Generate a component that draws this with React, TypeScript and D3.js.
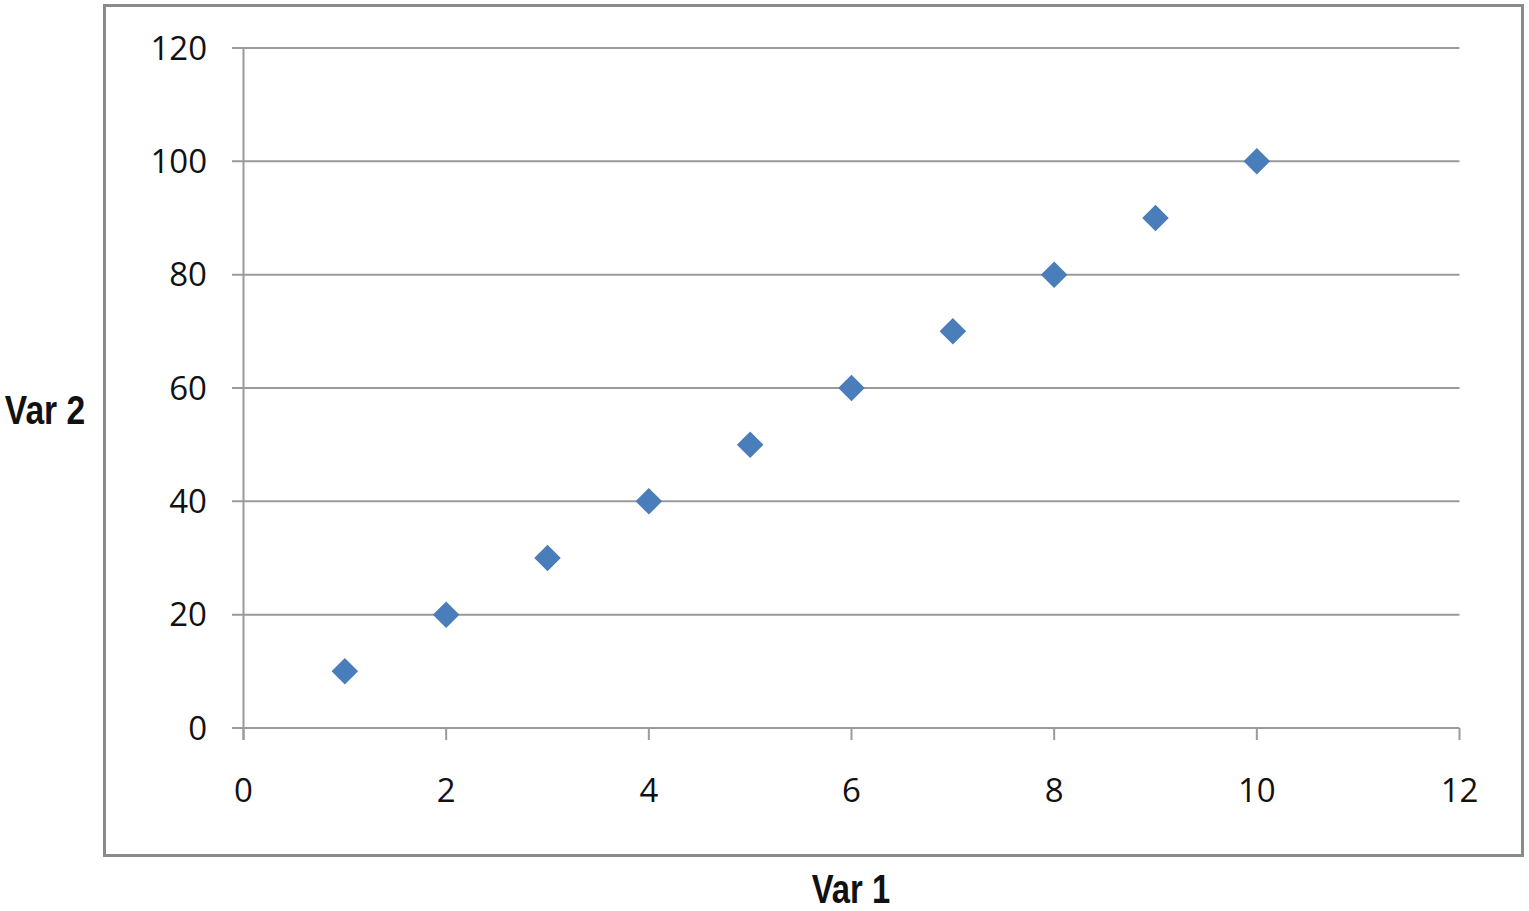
import React from "react";
import * as d3 from "d3";

const var1: number[] = [1, 2, 3, 4, 5, 6, 7, 8, 9, 10];
const var2: number[] = [10, 20, 30, 40, 50, 60, 70, 80, 90, 100];
const xTicks: number[] = [0, 2, 4, 6, 8, 10, 12];
const yTicks: number[] = [0, 20, 40, 60, 80, 100, 120];

export default function App() {
  const W = 1529, H = 911;
  const x = d3.scaleLinear().domain([0, 12]).range([243.5, 1459.5]);
  const y = d3.scaleLinear().domain([0, 120]).range([728, 48]);
  const sym = d3.symbol().type(d3.symbolDiamond2).size(2 * 15 * 15);
  const diamond = sym() as string;
  const tickFont = "'Open Sans', 'Noto Sans', sans-serif";
  const titleFont = "'Liberation Sans', Arial, sans-serif";
  const gridColor = "#9a9a9a";
  return (
    <svg width={W} height={H} style={{ position: "absolute", left: 0, top: 0, background: "#fff" }}>
      <rect x={104.5} y={5.5} width={1418} height={850} fill="none" stroke="#8a8a8a" strokeWidth={3} />
      {yTicks.map((t) => (
        <g key={"y" + t}>
          <line x1={232} x2={x(12)} y1={y(t)} y2={y(t)} stroke={gridColor} strokeWidth={2} />
          <text x={207} y={y(t)} dy="0.35em" textAnchor="end" fontFamily={tickFont} fontSize={33} fill="#111">
            {t}
          </text>
        </g>
      ))}
      <line x1={x(0)} x2={x(0)} y1={y(120)} y2={y(0) + 12} stroke={gridColor} strokeWidth={2} />
      {xTicks.map((t) => (
        <g key={"x" + t}>
          <line x1={x(t)} x2={x(t)} y1={y(0)} y2={y(0) + 12} stroke={gridColor} strokeWidth={2} />
          <text x={x(t)} y={802} textAnchor="middle" fontFamily={tickFont} fontSize={33} fill="#111">
            {t}
          </text>
        </g>
      ))}
      {var1.map((v, i) => (
        <path key={"p" + i} d={diamond} transform={`translate(${x(v)},${y(var2[i])})`} fill="#4a7ebb" />
      ))}
      <g transform="translate(45,424) scale(0.82,1)">
        <text x={0} y={0} textAnchor="middle" fontFamily={titleFont} fontWeight="bold" fontSize={41} fill="#111">
          Var 2
        </text>
      </g>
      <g transform="translate(851,903) scale(0.82,1)">
        <text x={0} y={0} textAnchor="middle" fontFamily={titleFont} fontWeight="bold" fontSize={40} fill="#111">
          Var 1
        </text>
      </g>
    </svg>
  );
}
